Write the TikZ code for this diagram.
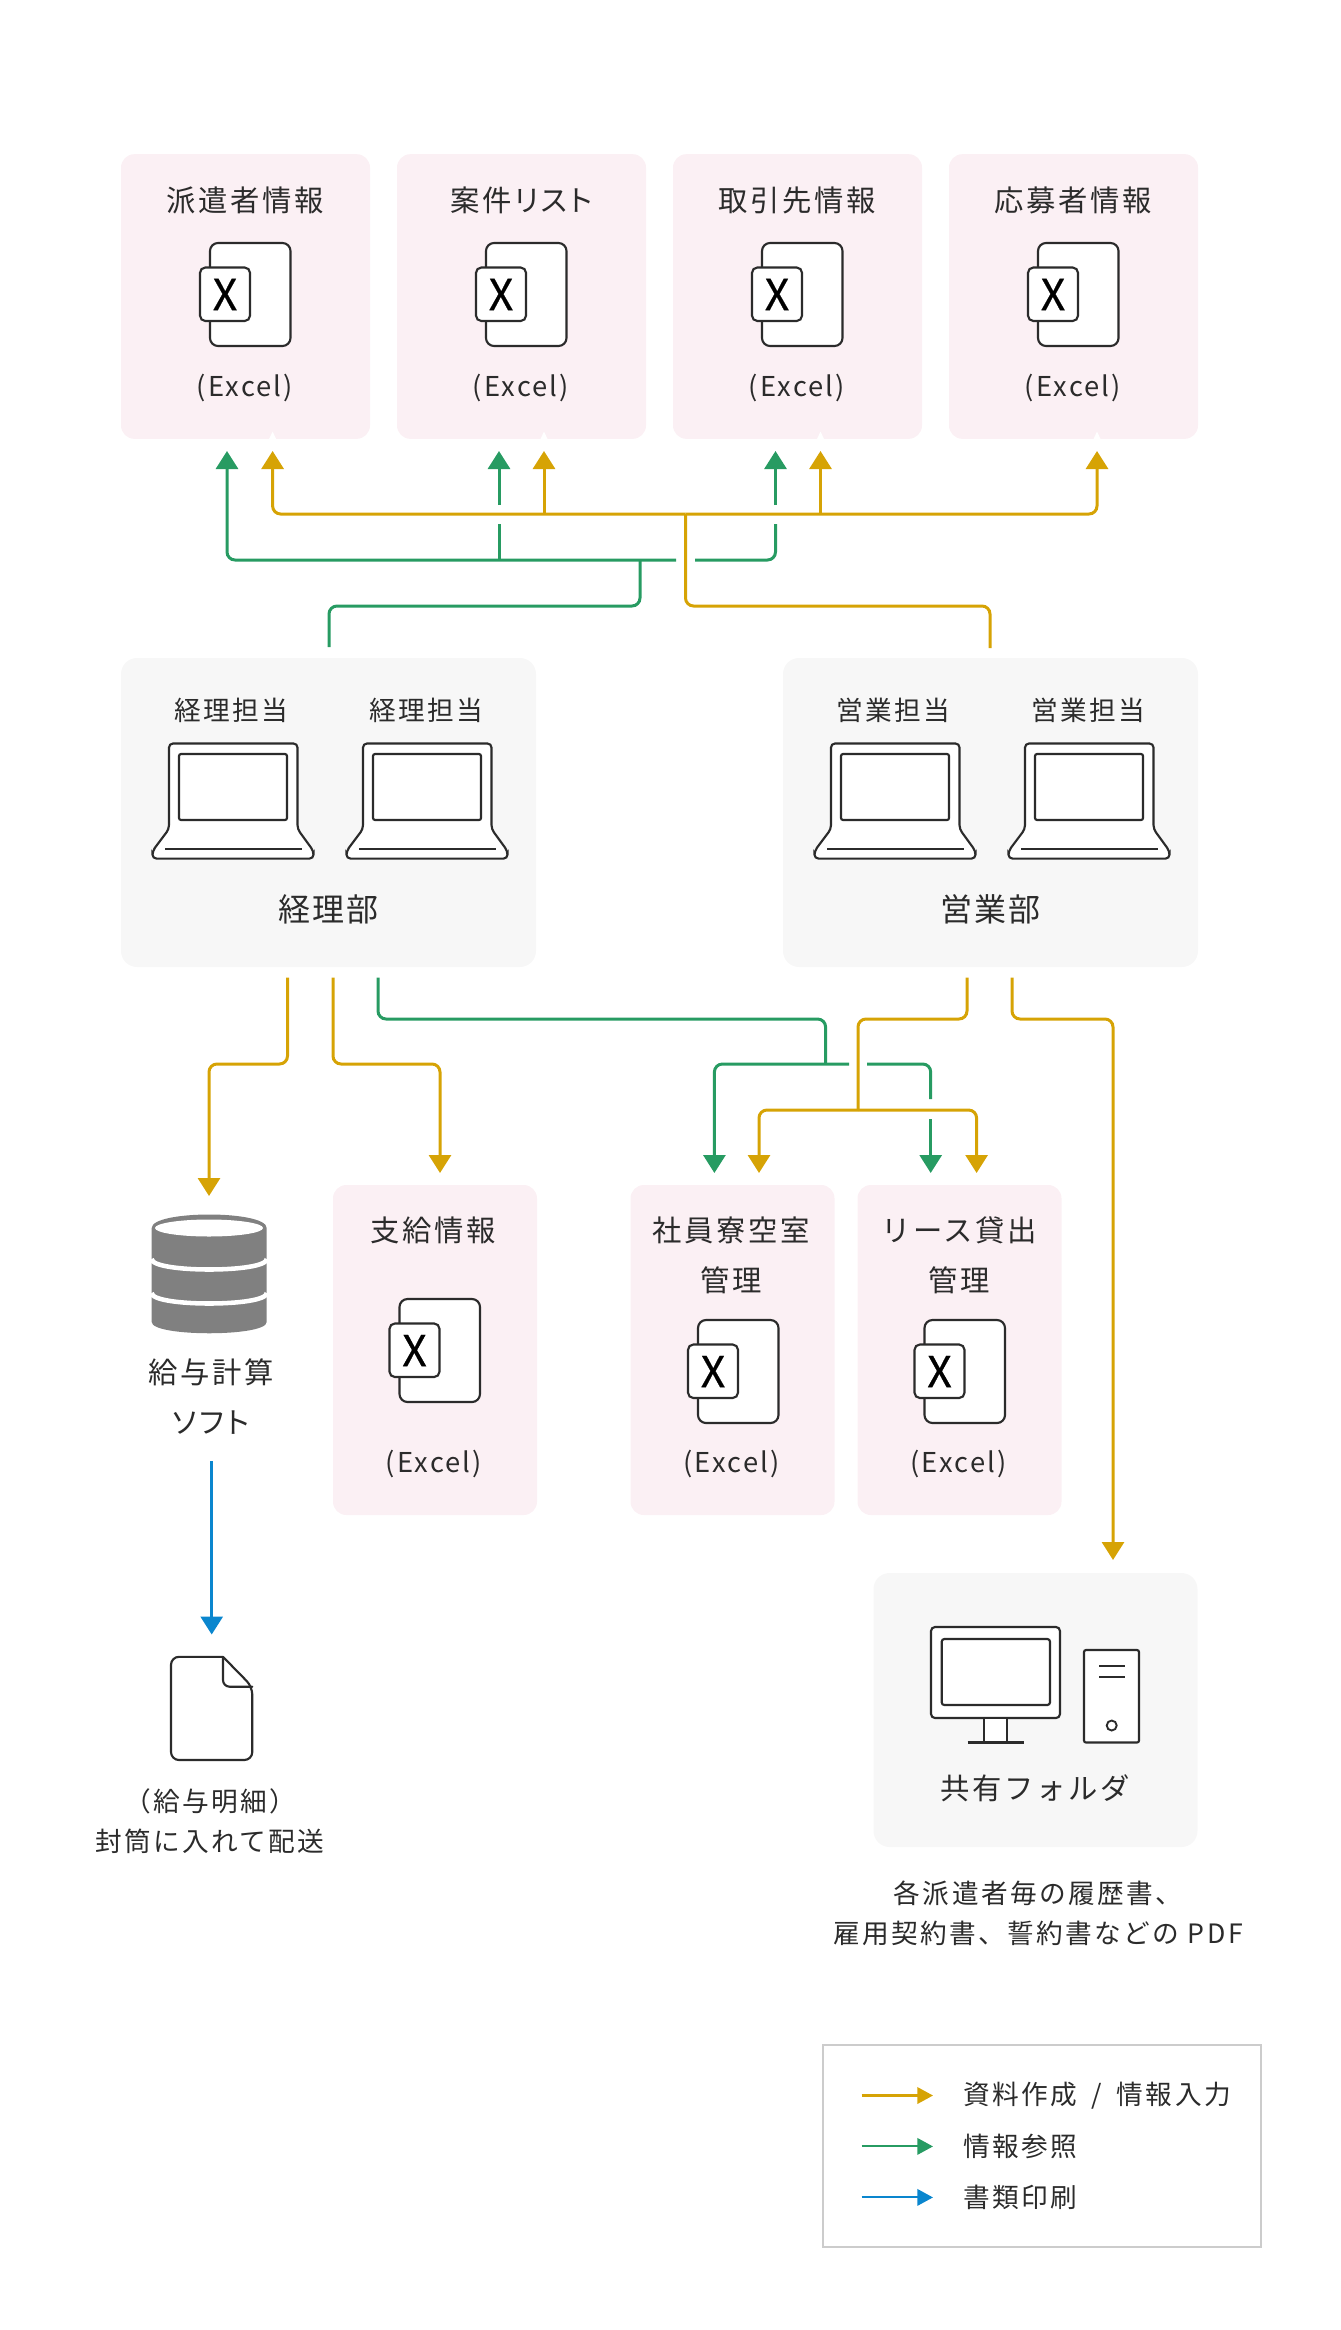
\documentclass[tikz,border=0pt]{standalone}
\usepackage{fontspec}
\setmainfont{Noto Sans CJK JP}
\usetikzlibrary{arrows.meta}

\definecolor{CardPink}{HTML}{FBF0F4}
\definecolor{GroupGray}{HTML}{F7F7F7}
\definecolor{InkDark}{HTML}{2B2B2B}
\definecolor{MakeYellow}{HTML}{D6A305}
\definecolor{ReadGreen}{HTML}{279B62}
\definecolor{PrintBlue}{HTML}{0A86CE}

\newcommand{\BigFont}{\fontsize{22}{37.5}\selectfont\addfontfeature{LetterSpace=9}}
\newcommand{\DeptFont}{\fontsize{24}{37.5}\selectfont\addfontfeature{LetterSpace=5}}
\newcommand{\SmallFont}{\fontsize{20}{30}\selectfont\addfontfeature{LetterSpace=9}}
\newcommand{\ExcelFont}{\fontsize{20.5}{25}\selectfont\addfontfeature{LetterSpace=8}}
\newcommand{\KanaTight}{\addfontfeature{RawFeature=+palt}}

\tikzset{
  CardStyle/.style={fill=CardPink, rounded corners=10pt, inner sep=0pt, minimum width=#1},
  GroupStyle/.style={fill=GroupGray, rounded corners=12pt, inner sep=0pt},
  BigLabel/.style={inner sep=0pt, text=InkDark, align=center, font=\BigFont},
  DeptLabel/.style={inner sep=0pt, text=InkDark, align=center, font=\DeptFont},
  SmallLabel/.style={inner sep=0pt, text=InkDark, align=center, font=\SmallFont},
  ExcelLabel/.style={inner sep=0pt, text=InkDark, font=\ExcelFont},
  IconLine/.style={draw=InkDark, line width=1.6pt, fill=white},
  YellowEdge/.style={draw=MakeYellow, line width=2.25pt, rounded corners=6pt},
  GreenEdge/.style={draw=ReadGreen, line width=2.25pt, rounded corners=6pt},
  BlueEdge/.style={draw=PrintBlue, line width=2.25pt},
  BigTip/.style={-{Triangle[width=16.5pt,length=13.5pt]}},
  KeyTip/.style={line width=1.6pt, -{Triangle[width=12.4pt,length=11.8pt]}},
  xlsicon/.pic={
    \draw[IconLine, rounded corners=6pt] (-40,-51.5) rectangle (40.5,51.5);
    \draw[IconLine, rounded corners=4pt] (-50,-27) rectangle (0,26.5);
    \node[inner sep=0pt, text=black, font=\fontsize{32}{32}\selectfont\addfontfeature{FakeBold=0.6}] (-mark) at (-25,0) {X};
  },
  laptopicon/.pic={
    \draw[IconLine, rounded corners=3pt] (-64,29) -- (-64,-56.5) -- (64.5,-56.5) -- (64.5,29)
      -- (80.5,51) -- (80.5,58.6) -- (-80.5,58.6) -- (-80.5,51) -- cycle;
    \draw[IconLine, rounded corners=1.5pt] (-54,-46) rectangle (54,20);
    \draw[InkDark, line width=1.6pt] (-68,49) -- (69,49);
  }
}

\begin{document}
\begin{tikzpicture}[x=0.75pt, y=-0.75pt]
  \useasboundingbox (0,0) rectangle (1340,2330);

  % data sheets, top row
  \foreach \name/\cx/\nx/\title in {haken/245.5/272.6/派遣者情報, anken/521.5/544/{\KanaTight 案件リスト},
      torihiki/797.5/820.5/取引先情報, oubo/1073.5/1097/応募者情報} {
    \node[CardStyle=186.75pt, minimum height=213.5pt] (\name) at (\cx,296.5) {};
    \fill[white] (\nx-3.5,439) -- (\nx,431.5) -- (\nx+3.5,439) -- cycle;
    \node[BigLabel] (\name Title) at (\cx,200.6) {\title};
    \pic (\name Icon) at (\cx+4.5,294.5) {xlsicon};
    \node[ExcelLabel] (\name Excel) at (\cx-0.5,388) {(Excel)};
  }

  % departments
  \foreach \name/\cx/\who/\dept in {keiri/328.5/経理担当/経理部, eigyo/990.5/営業担当/営業部} {
    \node[GroupStyle, minimum width=311.25pt, minimum height=231.75pt] (\name) at (\cx,812.5) {};
    \node[SmallLabel] (\name StaffA) at (\cx-97.5,710) {\who};
    \node[SmallLabel] (\name StaffB) at (\cx+97.5,710) {\who};
    \pic (\name PcA) at (\cx-95.5,800) {laptopicon};
    \pic (\name PcB) at (\cx+98.5,800) {laptopicon};
    \node[DeptLabel] (\name Name) at (\cx,909.5) {\dept};
  }

  % data sheets, lower row
  \node[CardStyle=153pt, minimum height=247.5pt] (shikyu) at (435,1350) {};
  \node[BigLabel] (shikyuTitle) at (433.5,1230.5) {支給情報};
  \pic (shikyuIcon) at (439.5,1350.5) {xlsicon};
  \node[ExcelLabel] (shikyuExcel) at (434,1464) {(Excel)};

  \node[CardStyle=153pt, minimum height=247.5pt] (ryou) at (732.5,1350) {};
  \node[BigLabel] (ryouTitle) at (731,1255.5) {社員寮空室\\管理};
  \pic (ryouIcon) at (738,1371.5) {xlsicon};
  \node[ExcelLabel] (ryouExcel) at (731.5,1464) {(Excel)};

  \node[CardStyle=153pt, minimum height=247.5pt] (lease) at (959.5,1350) {};
  \node[BigLabel] (leaseTitle) at (959,1255.5) {リース貸出\\管理};
  \pic (leaseIcon) at (964.5,1371.5) {xlsicon};
  \node[ExcelLabel] (leaseExcel) at (958.5,1464) {(Excel)};

  % payroll software
  \fill[black!50] (151.7,1228) -- (151.7,1322)
    .. controls (151.7,1337) and (266.7,1337) .. (266.7,1322) -- (266.7,1228)
    .. controls (266.7,1210) and (151.7,1210) .. (151.7,1228) -- cycle;
  \fill[white] (209,1228) ellipse [x radius=54, y radius=8.5];
  \draw[white, line width=3.4pt] (151.7,1259) .. controls (151.7,1273) and (266.7,1273) .. (266.7,1259);
  \draw[white, line width=3.4pt] (151.7,1293) .. controls (151.7,1307) and (266.7,1307) .. (266.7,1293);
  \node[BigLabel] (softLabel) at (211,1396.5) {給与計算\\{\KanaTight ソフト}};

  % payslip
  \draw[IconLine, rounded corners=6pt] (223,1656.8) -- (171,1656.8) -- (171,1760) -- (252.3,1760) -- (252.3,1686.7) -- (223,1656.8);
  \draw[InkDark, line width=1.6pt, rounded corners=5pt, line cap=round] (223,1656.8) -- (223,1686.7) -- (252.3,1686.7);
  \node[SmallLabel] (slipLabel) at (210,1821) {（給与明細）\\封筒に入れて配送};

  % shared folder
  \node[GroupStyle, minimum width=243pt, minimum height=205.5pt] (shared) at (1035.5,1710) {};
  \draw[IconLine, rounded corners=3pt] (931,1627) rectangle (1060,1718);
  \draw[IconLine, rounded corners=2pt] (941.7,1639) rectangle (1050,1705);
  \draw[IconLine] (984.3,1718) rectangle (1007,1742.5);
  \draw[InkDark, line width=1.6pt] (967.7,1742.5) -- (1024.3,1742.5);
  \draw[IconLine, rounded corners=1.5pt] (1084,1650) rectangle (1139,1742.5);
  \draw[InkDark, line width=1.6pt] (1099,1666) -- (1125,1666) (1099,1677) -- (1125,1677);
  \draw[InkDark, line width=1.4pt] (1111.7,1725.5) circle [radius=5];
  \node[BigLabel] (sharedLabel) at (1035,1788.7) {共有フォルダ};
  \node[SmallLabel] (sharedNote) at (1038,1913.5) {各派遣者毎の履歴書、\\雇用契約書、誓約書などの PDF};

  % upper connectors, yellow
  \coordinate (eigyoStem) at (990,648);
  \coordinate (yellowBend) at (685.5,606);
  \coordinate (yellowHub) at (685.5,514);
  \coordinate (hakenTipY) at (272.6,451);
  \coordinate (ankenTipY) at (544,451);
  \coordinate (torihikiTipY) at (820.5,451);
  \coordinate (oubouTipY) at (1097,451);
  \draw[YellowEdge] (eigyoStem) |- (yellowBend) -- (yellowHub);
  \draw[YellowEdge, BigTip] (yellowHub) -| (hakenTipY);
  \draw[YellowEdge, BigTip] (yellowHub) -| (oubouTipY);
  \draw[YellowEdge, BigTip] (ankenTipY |- yellowHub) -- (ankenTipY);
  \draw[YellowEdge, BigTip] (torihikiTipY |- yellowHub) -- (torihikiTipY);

  % upper connectors, green
  \coordinate (keiriStem) at (329,647);
  \coordinate (greenBend) at (640,606);
  \coordinate (greenHub) at (640,560);
  \coordinate (greenGapL) at (676,560);
  \coordinate (greenGapR) at (695,560);
  \coordinate (hakenTipG) at (227,451);
  \coordinate (ankenLowG) at (499,524);
  \coordinate (ankenHighG) at (499,505);
  \coordinate (ankenTipG) at (499,451);
  \coordinate (torihikiLowG) at (775.5,524);
  \coordinate (torihikiHighG) at (775.5,505);
  \coordinate (torihikiTipG) at (775.5,451);
  \draw[GreenEdge] (keiriStem) |- (greenBend) -- (greenHub);
  \draw[GreenEdge, BigTip] (greenGapL) -| (hakenTipG);
  \draw[GreenEdge] (ankenLowG |- greenHub) -- (ankenLowG);
  \draw[GreenEdge, BigTip] (ankenHighG) -- (ankenTipG);
  \draw[GreenEdge] (greenGapR) -| (torihikiLowG);
  \draw[GreenEdge, BigTip] (torihikiHighG) -- (torihikiTipG);

  % lower connectors, yellow
  \coordinate (keiriOutA) at (287.5,977.5);
  \coordinate (kyuyoBend) at (209,1064);
  \coordinate (kyuyoTip) at (209,1196);
  \coordinate (keiriOutB) at (333,977.5);
  \coordinate (shikyuBend) at (440,1064);
  \coordinate (shikyuTip) at (440,1173);
  \coordinate (eigyoOutA) at (967,977.5);
  \coordinate (lowBend) at (858,1019);
  \coordinate (lowHub) at (858,1110);
  \coordinate (ryouTipY) at (759,1173);
  \coordinate (leaseTipY) at (976.6,1173);
  \coordinate (eigyoOutB) at (1012,977.5);
  \coordinate (sharedBend) at (1113,1019);
  \coordinate (sharedTip) at (1113,1560);
  \draw[YellowEdge, BigTip] (keiriOutA) |- (kyuyoBend) -- (kyuyoTip);
  \draw[YellowEdge, BigTip] (keiriOutB) |- (shikyuBend) -- (shikyuTip);
  \draw[YellowEdge] (eigyoOutA) |- (lowBend) -- (lowHub);
  \draw[YellowEdge, BigTip] (lowHub) -| (ryouTipY);
  \draw[YellowEdge, BigTip] (lowHub) -| (leaseTipY);
  \draw[YellowEdge, BigTip] (eigyoOutB) |- (sharedBend) -- (sharedTip);

  % lower connectors, green
  \coordinate (keiriOutC) at (378,977.5);
  \coordinate (lowGreenBend) at (825.6,1019);
  \coordinate (lowGreenHub) at (825.6,1064);
  \coordinate (lowGapL) at (849,1064);
  \coordinate (lowGapR) at (867,1064);
  \coordinate (ryouTipG) at (714.4,1173);
  \coordinate (leaseHighG) at (930.7,1099);
  \coordinate (leaseLowG) at (930.7,1119);
  \coordinate (leaseTipG) at (930.7,1173);
  \draw[GreenEdge] (keiriOutC) |- (lowGreenBend) -- (lowGreenHub);
  \draw[GreenEdge, BigTip] (lowGapL) -| (ryouTipG);
  \draw[GreenEdge] (lowGapR) -| (leaseHighG);
  \draw[GreenEdge, BigTip] (leaseLowG) -- (leaseTipG);

  % print arrow
  \coordinate (softOut) at (211.7,1461);
  \coordinate (slipTip) at (211.7,1634.5);
  \draw[BlueEdge, BigTip] (softOut) -- (slipTip);

  % legend
  \node[draw=black!20, line width=1.5pt, inner sep=0pt, minimum width=328.5pt, minimum height=151.5pt] (legendBox) at (1041.7,2146) {};
  \foreach \key/\y/\col/\txt in {make/2095.5/MakeYellow/{資料作成\hspace{11pt}/\hspace{11pt}情報入力}, read/2146.4/ReadGreen/情報参照, print/2197.4/PrintBlue/書類印刷} {
    \coordinate (\key From) at (861.7,\y);
    \coordinate (\key To) at (933,\y);
    \draw[\col, KeyTip] (\key From) -- (\key To);
    \node[SmallLabel, anchor=west] (\key Label) at (963,\y) {\txt};
  }
\end{tikzpicture}
\end{document}
